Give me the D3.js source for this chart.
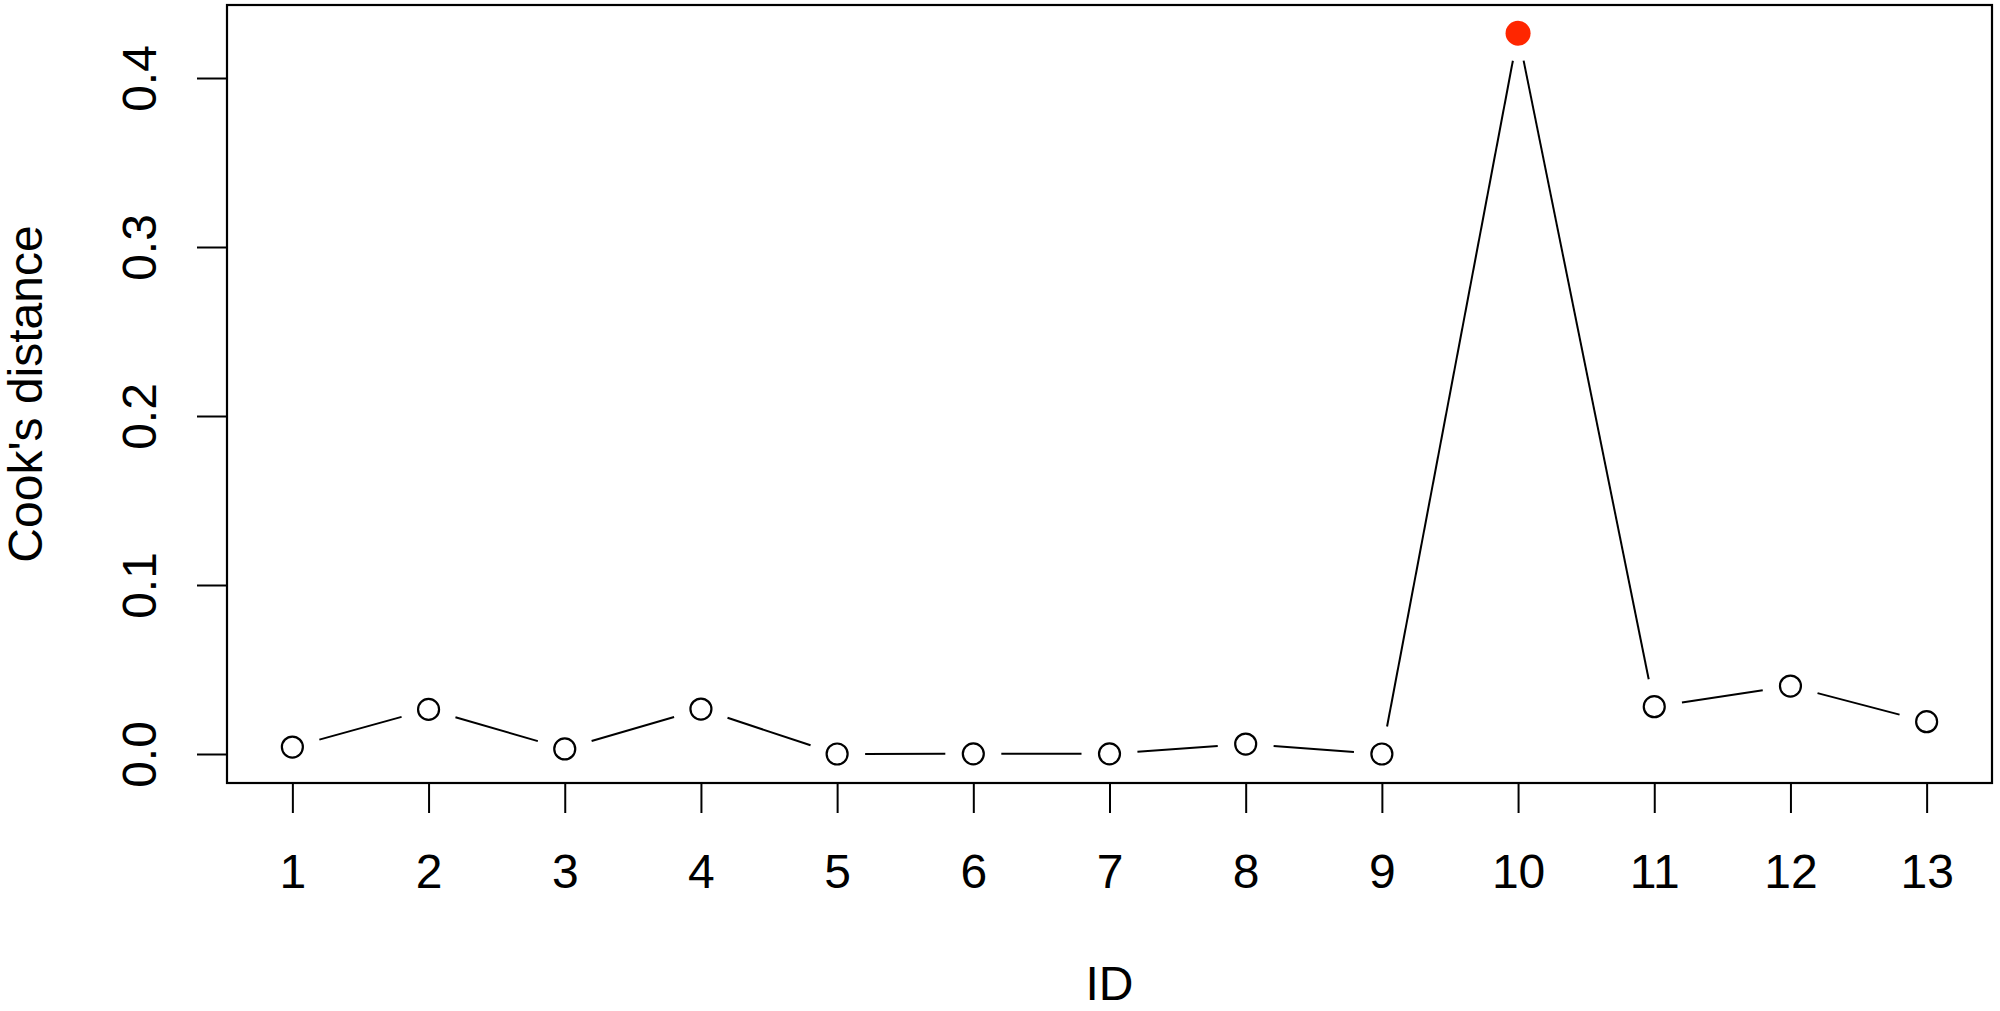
<!DOCTYPE html>
<html>
<head>
<meta charset="utf-8">
<script src="https://cdn.jsdelivr.net/npm/d3@7"></script>
<style>
  body { margin: 0; background: #fff; }
  text { font-family: "Liberation Sans", Arial, sans-serif; fill: #000; }
</style>
</head>
<body>
<div id="viz-wrapper"></div>
<script>
var width = 2000;
var height = 1011;

// data
var ids = [1, 2, 3, 4, 5, 6, 7, 8, 9, 10, 11, 12, 13];
var cooks = [0.0041, 0.0264, 0.0030, 0.0266, 0.0000, 0.0001, 0.0001, 0.0059, 0.0000, 0.4265, 0.0280, 0.0402, 0.0191];
var yTicks = [0.0, 0.1, 0.2, 0.3, 0.4];
var highlightId = 10;

// plot box
var box = { left: 227, right: 1992, top: 5, bottom: 783 };

var x = d3.scaleLinear().domain([0.52, 13.48]).range([box.left, box.right]);
var y = d3.scaleLinear().domain([-0.01716, 0.4432]).range([box.bottom, box.top]);

var svg = d3.select('#viz-wrapper').append('svg')
  .attr('width', width).attr('height', height);

// x axis
var xAxis = svg.append('g')
  .attr('transform', 'translate(0,' + box.bottom + ')')
  .call(d3.axisBottom(x).tickValues(ids).tickSize(30).tickFormat(d3.format('d')));
xAxis.select('.domain').remove();
xAxis.selectAll('line').attr('stroke', '#000').attr('stroke-width', 2);
xAxis.selectAll('text')
  .attr('y', 105).attr('dy', null)
  .style('font-size', '48px');

// y axis
var yAxis = svg.append('g')
  .attr('transform', 'translate(' + box.left + ',0)')
  .call(d3.axisLeft(y).tickValues(yTicks).tickSize(30).tickFormat(d3.format('.1f')));
yAxis.select('.domain').remove();
yAxis.selectAll('line').attr('stroke', '#000').attr('stroke-width', 2);
yAxis.selectAll('text')
  .attr('x', 0).attr('y', -71).attr('dy', null)
  .attr('transform', 'rotate(-90)')
  .attr('text-anchor', 'middle')
  .style('font-size', '48px');

// frame
svg.append('rect')
  .attr('x', box.left).attr('y', box.top)
  .attr('width', box.right - box.left).attr('height', box.bottom - box.top)
  .attr('fill', 'none').attr('stroke', '#000').attr('stroke-width', 2.2);

// lines between points, with gaps around the symbols (R type = "b")
var gap = 28;
var pts = ids.map(function(d, i) { return [x(d), y(cooks[i])]; });
for (var i = 0; i < pts.length - 1; i++) {
  var p = pts[i], q = pts[i + 1];
  var dx = q[0] - p[0], dy = q[1] - p[1];
  var len = Math.sqrt(dx * dx + dy * dy);
  if (len <= 2 * gap) continue;
  var ux = dx / len, uy = dy / len;
  svg.append('line')
    .attr('x1', p[0] + ux * gap).attr('y1', p[1] + uy * gap)
    .attr('x2', q[0] - ux * gap).attr('y2', q[1] - uy * gap)
    .attr('stroke', '#000').attr('stroke-width', 2);
}

// points
svg.selectAll('circle.pt').data(ids).enter().append('circle')
  .attr('class', 'pt')
  .attr('cx', function(d) { return x(d); })
  .attr('cy', function(d, i) { return y(cooks[i]); })
  .attr('r', function(d) { return d === highlightId ? 12.5 : 10.5; })
  .attr('fill', function(d) { return d === highlightId ? '#ff2600' : 'none'; })
  .attr('stroke', function(d) { return d === highlightId ? 'none' : '#000'; })
  .attr('stroke-width', 2.2);

// axis titles
svg.append('text')
  .attr('x', (box.left + box.right) / 2).attr('y', 1000)
  .attr('text-anchor', 'middle')
  .style('font-size', '48px')
  .text('ID');

svg.append('text')
  .attr('transform', 'translate(42,' + ((box.top + box.bottom) / 2) + ') rotate(-90)')
  .attr('text-anchor', 'middle')
  .style('font-size', '48px')
  .text("Cook's distance");
</script>
</body>
</html>
